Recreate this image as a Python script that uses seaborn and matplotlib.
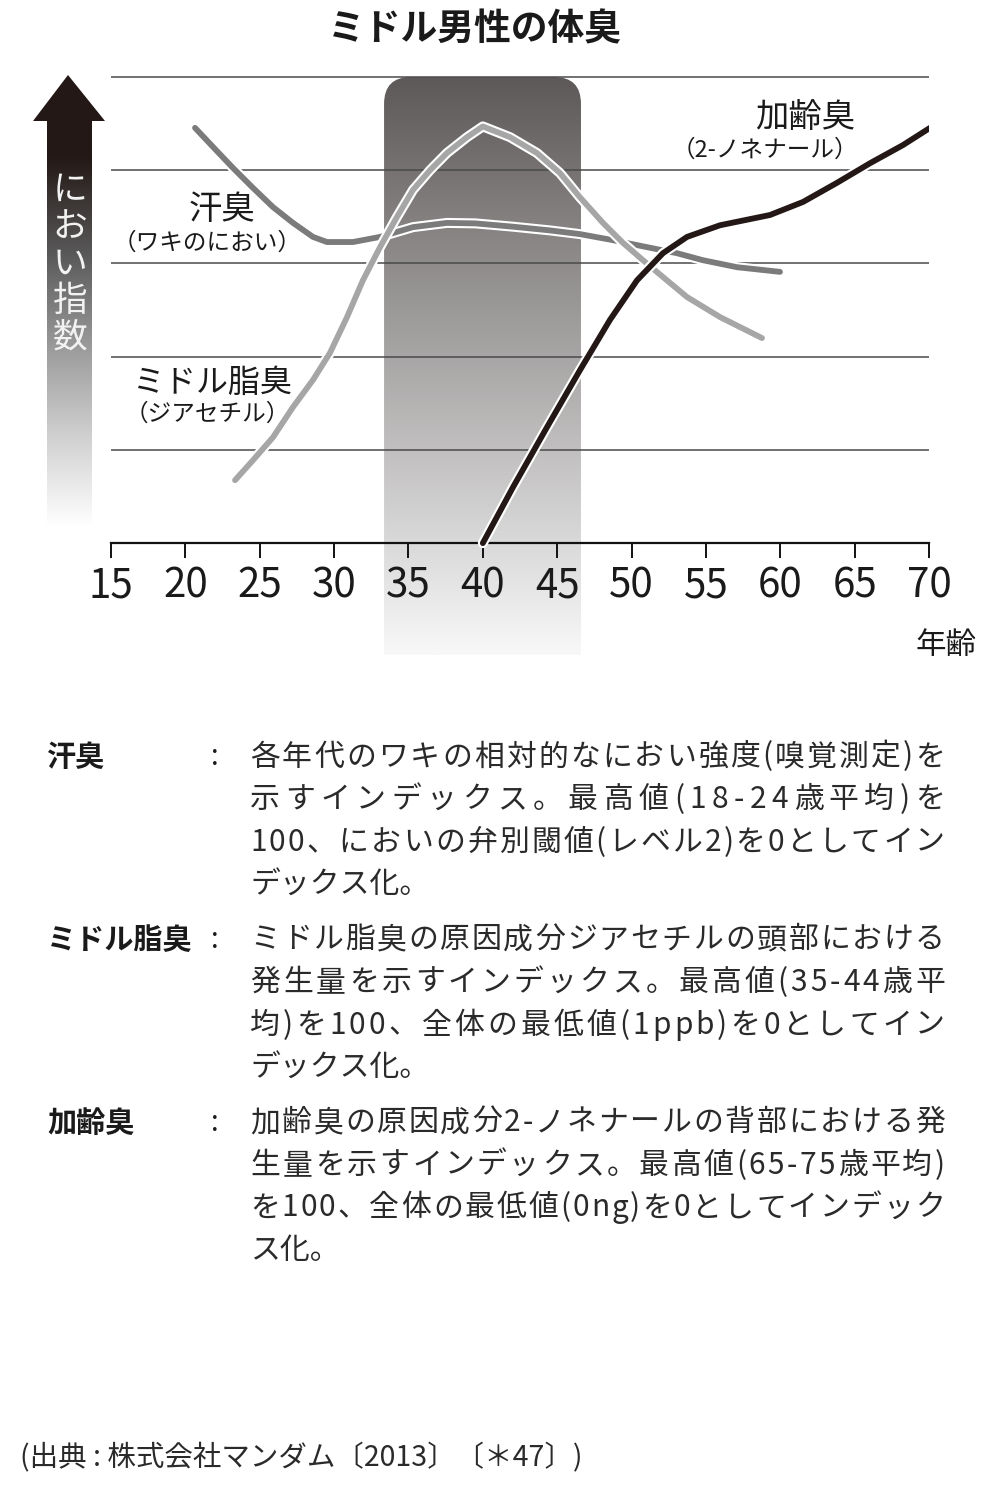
import matplotlib
matplotlib.use("Agg")
import matplotlib.pyplot as plt
import matplotlib.patheffects as pe
from matplotlib.colors import LinearSegmentedColormap
from matplotlib.patches import FancyBboxPatch, Polygon
import numpy as np
import pandas as pd
import seaborn as sns

# ---- data (age, index) ----
sweat_age = [20.65, 21.86, 23.2, 24.55, 25.89, 27.24, 28.58, 29.52, 31.27, 33.09, 35.31, 37.59,
             39.5, 42.0, 44.5, 46.53, 48.75, 51.04, 53.06, 54.8, 57.09, 59.98]
sweat_val = [89.1, 85.0, 80.5, 76.2, 72.1, 68.7, 65.7, 64.6, 64.6, 65.7, 67.8, 68.7,
             68.6, 67.9, 67.1, 66.3, 65.0, 63.5, 62.2, 60.7, 59.2, 58.2]

midol_age = [23.34, 24.55, 25.89, 27.24, 28.58, 29.72, 30.87, 31.94, 33.09, 34.23, 35.31, 36.45,
             37.59, 38.94, 40.0, 41.83, 43.64, 45.19, 46.53, 48.08, 49.43, 50.77, 52.11, 53.73,
             55.95, 58.77]
midol_val = [13.5, 17.8, 22.7, 29.2, 35.0, 40.8, 48.5, 56.4, 63.5, 70.0, 75.8, 80.0,
             83.7, 87.1, 89.4, 87.1, 83.7, 79.4, 74.2, 68.7, 64.4, 60.7, 57.1, 52.8,
             48.5, 44.0]

aging_age = [40.0, 42.03, 44.32, 46.53, 48.55, 50.37, 52.11, 53.73, 55.95, 59.31, 61.53, 63.81,
             66.03, 68.25, 70.07]
aging_val = [0.0, 12.0, 24.9, 37.1, 47.9, 56.4, 62.2, 65.7, 68.2, 70.4, 73.2, 77.3,
             81.5, 85.4, 89.1]

x_ticks = [15, 20, 25, 30, 35, 40, 45, 50, 55, 60, 65, 70]
grid_levels = [20, 40, 60, 80, 100]
band_start, band_end = 33.36, 46.6

notes = [
    ("汗臭", ["各年代のワキの相対的なにおい強度(嗅覚測定)を",
             "示すインデックス。最高値(18-24歳平均)を",
             "100、においの弁別閾値(レベル2)を0としてイン",
             "デックス化。"]),
    ("ミドル脂臭", ["ミドル脂臭の原因成分ジアセチルの頭部における",
                "発生量を示すインデックス。最高値(35-44歳平",
                "均)を100、全体の最低値(1ppb)を0としてイン",
                "デックス化。"]),
    ("加齢臭", ["加齢臭の原因成分2-ノネナールの背部における発",
              "生量を示すインデックス。最高値(65-75歳平均)",
              "を100、全体の最低値(0ng)を0としてインデック",
              "ス化。"]),
]

sns.set_theme(style="white")
plt.rcParams["font.family"] = ["Noto Sans CJK JP", "DejaVu Sans"]

W, H = 992, 1509
fig = plt.figure(figsize=(W / 100, H / 100), dpi=100)
fig.patch.set_facecolor("white")

# overlay in pixel coordinates for decorations and text
ov = fig.add_axes([0, 0, 1, 1])
ov.set_xlim(0, W)
ov.set_ylim(H, 0)
ov.axis("off")
ov.patch.set_alpha(0)

# ---- main chart axes ----
ax = fig.add_axes([111 / W, (H - 655) / H, (929 - 111) / W, (655 - 74.7) / H])
ax.patch.set_alpha(0)

# shaded band with rounded top corners and vertical gradient
band = FancyBboxPatch((band_start, -40), band_end - band_start, 140,
                      boxstyle="round,pad=0,rounding_size=1.8", mutation_aspect=3.2,
                      facecolor="none", edgecolor="none")
ax.add_patch(band)
band_cmap = LinearSegmentedColormap.from_list("band", ["#f8f8f8", "#5d5958"])
grad = np.linspace(0, 1, 256).reshape(-1, 1)
img = ax.imshow(grad, cmap=band_cmap, origin="lower", aspect="auto",
                extent=[band_start, band_end, -24, 100], zorder=0.1)
img.set_clip_path(band)
ax.set_xlim(15, 70)
ax.set_ylim(-24, 100.5)

# gridlines
ax.set_yticks(grid_levels)
ax.yaxis.grid(True, color="#4a4a4a", linewidth=1.1)
ax.xaxis.grid(False)
ax.tick_params(axis="y", length=0, labelleft=False)

for s in ["left", "right", "top"]:
    ax.spines[s].set_visible(False)
ax.spines["bottom"].set_position(("data", 0))
ax.spines["bottom"].set_color("#111111")
ax.spines["bottom"].set_linewidth(1.6)
ax.set_xticks(x_ticks)
ax.set_xticklabels([str(t) for t in x_ticks])
ax.tick_params(axis="x", direction="out", length=11, width=1.4, color="#111111",
               labelsize=29, labelcolor="#1a1a1a", pad=5, bottom=True)

df = pd.concat([
    pd.DataFrame({"age": sweat_age, "val": sweat_val, "kind": "汗臭"}),
    pd.DataFrame({"age": midol_age, "val": midol_val, "kind": "ミドル脂臭"}),
    pd.DataFrame({"age": aging_age, "val": aging_val, "kind": "加齢臭"}),
])
colors = {"汗臭": "#7b7b7b", "ミドル脂臭": "#a6a6a6", "加齢臭": "#231815"}
for kind in ["汗臭", "ミドル脂臭", "加齢臭"]:
    sub = df[df["kind"] == kind]
    sns.lineplot(data=sub, x="age", y="val", ax=ax, color=colors[kind], lw=4.2,
                 sort=False, estimator=None, solid_capstyle="round",
                 solid_joinstyle="round", zorder=3,
                 path_effects=[pe.Stroke(linewidth=7.2, foreground="white"), pe.Normal()])
ax.set_xlabel("")
ax.set_ylabel("")

# ---- y "arrow" with gradient ----
arrow = Polygon([(68, 75), (105, 121), (92, 121), (92, 527), (47, 527), (47, 121), (33, 121)],
                closed=True, facecolor="none", edgecolor="none")
ov.add_patch(arrow)
arrow_cmap = LinearSegmentedColormap.from_list(
    "arrow", [(0.0, "#231815"), (0.18, "#231815"), (0.4, "#5a5a5a"), (0.6, "#9a9a9a"),
              (0.8, "#d0d0d0"), (1.0, "#ffffff")])
ag = ov.imshow(np.linspace(0, 1, 256).reshape(-1, 1), cmap=arrow_cmap, aspect="auto",
               extent=[33, 105, 527, 75], zorder=1)
ag.set_clip_path(arrow)
ov.set_xlim(0, W)
ov.set_ylim(H, 0)
for i, ch in enumerate("におい指数"):
    ov.text(70, 190 + i * 37, ch, fontsize=25, color="#f2f2f2", ha="center", va="center", zorder=2)

# ---- texts ----
ov.text(475, 30, "ミドル男性の体臭", fontsize=26.5, fontweight="bold", color="#1a1a1a",
        ha="center", va="center")
ov.text(222, 210, "汗臭", fontsize=24, color="#1a1a1a", ha="center", va="center")
ov.text(207, 243, "（ワキのにおい）", fontsize=17, color="#1a1a1a", ha="center", va="center")
ov.text(212, 383, "ミドル脂臭", fontsize=23, color="#1a1a1a", ha="center", va="center")
ov.text(207, 414, "（ジアセチル）", fontsize=17, color="#1a1a1a", ha="center", va="center")
ov.text(805, 118, "加齢臭", fontsize=24, color="#1a1a1a", ha="center", va="center")
ov.text(765, 150, "（2-ノネナール）", fontsize=17, color="#1a1a1a", ha="center", va="center")
ov.text(946, 645, "年齢", fontsize=22, color="#1a1a1a", ha="center", va="center")

renderer = fig.canvas.get_renderer()


def text_width(s, fs):
    t = ov.text(0, 0, s, fontsize=fs)
    w = t.get_window_extent(renderer).width
    t.remove()
    return w


def justified(x0, x1, y, s, fs, color):
    # spread characters so the line fills x0..x1 (like the printed, justified text)
    ref = text_width("M", fs)
    total = text_width(s + "M", fs) - ref
    extra = (x1 - x0 - total) / (len(s) - 1)
    for i, ch in enumerate(s):
        off = text_width(s[:i] + "M", fs) - ref if i else 0
        ov.text(x0 + off + i * extra, y, ch, fontsize=fs, color=color, ha="left", va="center")


fs_body = 21.5
y0 = 757
for label, lines in notes:
    ov.text(47, y0, label, fontsize=21, fontweight="bold", color="#1a1a1a", ha="left", va="center")
    ov.text(215, y0, ":", fontsize=20, color="#1a1a1a", ha="center", va="center")
    for j, line in enumerate(lines):
        yy = y0 + j * 42.7
        if j < len(lines) - 1:
            justified(250, 945, yy, line, fs_body, "#2a2a2a")
        else:
            ov.text(250, yy, line, fontsize=fs_body, color="#2a2a2a", ha="left", va="center")
    y0 += 4 * 42.7 + 12

ov.text(20, 1458, "(出典 : 株式会社マンダム〔2013〕〔＊47〕)", fontsize=20.5, color="#2a2a2a",
        ha="left", va="center")

fig.savefig("out.png", dpi=100, facecolor="white")
